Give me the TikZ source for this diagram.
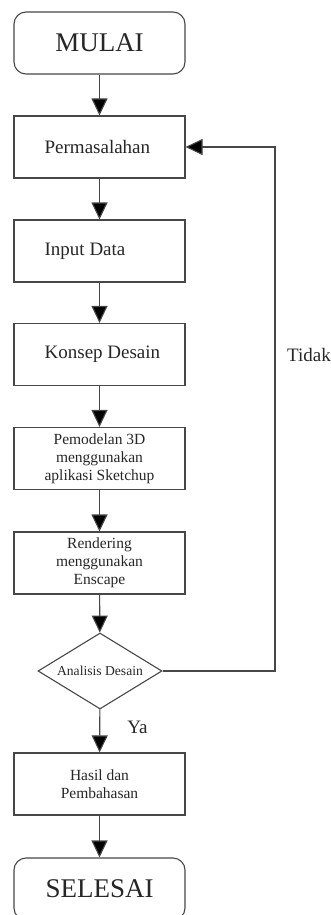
\documentclass[tikz,border=0pt]{standalone}
\usepackage{fontspec}
\setmainfont{Liberation Serif}
\usetikzlibrary{shapes.geometric,arrows.meta}
\begin{document}
\begin{tikzpicture}[x=1pt,y=-1pt,
  line/.style={draw=black!72, line width=1.1pt},
  flow/.style={line, -{Triangle[length=17pt,width=16pt,fill=black]}},
  box/.style={line, rectangle, minimum width=171pt, minimum height=62pt, inner sep=0pt},
  term/.style={box, rounded corners=12pt, font=\fontsize{27}{30}\selectfont, text=black!85},
  bigtxt/.style={font=\fontsize{19}{22}\selectfont, text=black!85, inner sep=0pt, anchor=west, xshift=31pt},
  smalltxt/.style={box, align=center, font=\fontsize{15.5}{18}\selectfont, text=black!85},
  decision/.style={line, diamond, minimum width=124pt, minimum height=76pt, inner sep=0pt, aspect=1.63,
    font=\fontsize{13.6}{16}\selectfont, text=black!85},
  lbl/.style={font=\fontsize{19}{22}\selectfont, text=black!85, inner sep=0pt}]
\useasboundingbox (0,0) rectangle (331,915);

% terminals and process steps
\node[term] (mulai) at (99.5,43) {MULAI};
\node[box] (masalah) at (99.5,147) {};
\node[bigtxt] (masalahT) at (masalah.west) {Permasalahan};
\node[box] (input) at (99.5,251) {};
\node[bigtxt] (inputT) at (input.west) {Input Data};
\node[box] (konsep) at (99.5,354.5) {};
\node[bigtxt] (konsepT) at (konsep.west) {Konsep Desain};
\node[smalltxt] (model) at (99.5,458.5) {Pemodelan 3D\\menggunakan\\aplikasi Sketchup};
\node[smalltxt] (render) at (99.5,563) {Rendering\\menggunakan\\Enscape};
\node[decision] (analisis) at (100,671) {Analisis Desain};
\node[smalltxt] (hasil) at (99.5,784) {Hasil dan\\Pembahasan};
\node[term] (selesai) at (99.5,889) {SELESAI};

% main flow
\draw[flow] (mulai) -- (masalah);
\draw[flow] (masalah) -- (input);
\draw[flow] (input) -- (konsep);
\draw[flow] (konsep) -- (model);
\draw[flow] (model) -- (render);
\draw[flow] (render) -- (analisis);
\draw[flow] (analisis) -- (hasil);
\draw[flow] (hasil) -- (selesai);

% feedback loop when the design analysis fails
\coordinate (kanan) at (275,671);
\draw[flow] (analisis.east) -- (kanan) |- (masalah.east);

% branch labels
\node[lbl, anchor=west] (tidak) at (287,355) {Tidak};
\node[lbl] (ya) at (137.5,727) {Ya};
\end{tikzpicture}
\end{document}
